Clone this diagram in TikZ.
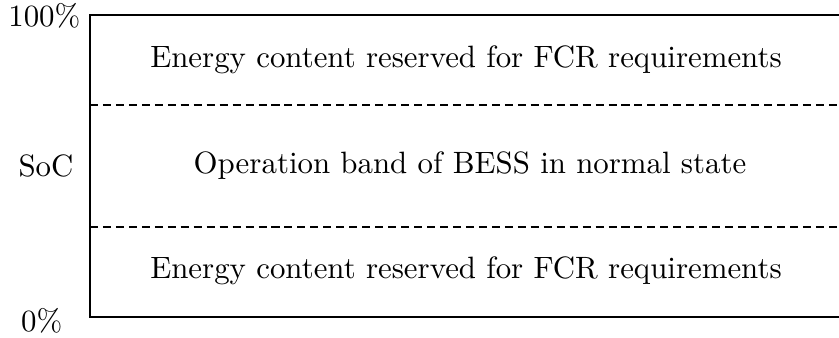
\documentclass[tikz,border=0pt]{standalone}
\begin{document}
\begin{tikzpicture}[x=0.324pt,y=-0.324pt,
  lbl/.style={inner sep=0pt,font=\normalsize},
  solidline/.style={line width=0.95pt},
  dashline/.style={line width=0.7pt,dash pattern=on 2.6pt off 1.6pt}]
\useasboundingbox (0,0) rectangle (839,338);
\coordinate (tl) at (90,15);
\coordinate (tr) at (839,15);
\coordinate (bl) at (90,317);
\coordinate (br) at (839,317);
\coordinate (d1l) at (90,105);
\coordinate (d1r) at (839,105);
\coordinate (d2l) at (90,227);
\coordinate (d2r) at (839,227);
\draw[solidline] (tr) -- (tl) -- (bl) -- (br);
\draw[dashline] (d1l) -- (d1r);
\draw[dashline] (d2l) -- (d2r);
\node[lbl] (t1) at (466,60) {Energy content reserved for FCR requirements};
\node[lbl] (t2) at (470,166) {Operation band of BESS in normal state};
\node[lbl] (t3) at (466,271) {Energy content reserved for FCR requirements};
\node[lbl,anchor=east] (p100) at (81,16) {100\%};
\node[lbl] (soc) at (46,166) {SoC};
\node[lbl,anchor=east] (p0) at (63,321) {0\%};
\end{tikzpicture}
\end{document}
